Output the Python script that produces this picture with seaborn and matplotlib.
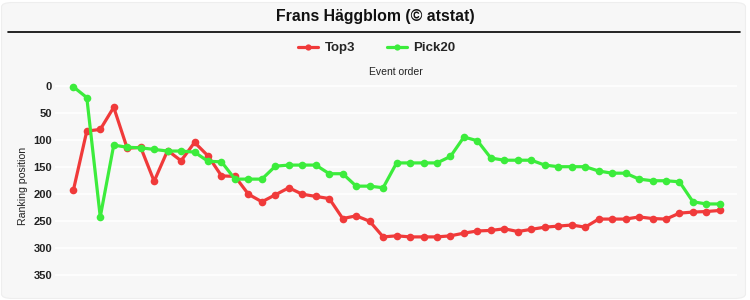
import numpy as np
import pandas as pd
import matplotlib
matplotlib.use("Agg")
import matplotlib.pyplot as plt
from matplotlib.patches import FancyBboxPatch
from matplotlib.lines import Line2D
import seaborn as sns

title = "Frans Häggblom (© atstat)"
series_names = ["Top3", "Pick20"]
top3 = [194, 84, 81, 40, 116, 114, 177, 120, 139, 105, 130, 167, 168, 201, 215, 202,
        189, 201, 205, 209, 246, 241, 251, 280, 278, 280, 280, 280, 278, 273, 269, 268,
        265, 270, 266, 262, 260, 258, 262, 247, 247, 247, 243, 246, 247, 236, 234, 233, 231]
pick20 = [2, 22, 243, 110, 114, 115, 118, 121, 121, 123, 140, 141, 173, 173, 173, 149,
          147, 147, 147, 163, 163, 186, 186, 189, 143, 143, 143, 143, 131, 95, 102, 134,
          138, 138, 138, 147, 150, 150, 150, 158, 162, 162, 173, 176, 176, 178, 215, 219, 219]
y_ticks = [0, 50, 100, 150, 200, 250, 300, 350]
colors = {"Top3": "#f03a3a", "Pick20": "#3cec3c"}

df = pd.DataFrame({
    "event": list(range(len(top3))) + list(range(len(pick20))),
    "rank": top3 + pick20,
    "series": ["Top3"] * len(top3) + ["Pick20"] * len(pick20),
})

sns.set_theme(style="white")
plt.rcParams["font.family"] = ["Liberation Sans", "DejaVu Sans"]

fig = plt.figure(figsize=(7.5, 3.0), dpi=100)
fig.patch.set_facecolor("white")
bg = FancyBboxPatch((1.5 / 750, 1.5 / 300), 744 / 750, 296 / 300,
                    boxstyle="round,pad=0,rounding_size=0.015",
                    transform=fig.transFigure, facecolor="#f7f7f7",
                    edgecolor="#eeeeee", linewidth=0.8, zorder=-10)
fig.patches.append(bg)

ax = fig.add_axes([55 / 750, 1 - 290.9 / 300, (737 - 55) / 750, (290.9 - 80.3) / 300])
ax.set_facecolor("#f7f7f7")
sns.lineplot(data=df, x="event", y="rank", hue="series", palette=colors,
             hue_order=series_names, marker="o", markersize=5.5, markeredgewidth=0,
             linewidth=2.3, ax=ax, legend=False, zorder=3)

ax.set_ylim(380, -10)
ax.set_xlim(-1.36, 49.27)
ax.set_yticks(y_ticks)
ax.set_yticklabels([str(v) for v in y_ticks], fontsize=8, fontweight="bold", color="#222222")
ax.set_xticks([])
ax.tick_params(axis="y", length=0, pad=2)
ax.grid(axis="y", color="white", linewidth=1.2, zorder=0)
ax.grid(axis="x", visible=False)
for s in ax.spines.values():
    s.set_visible(False)
ax.set_ylabel("Ranking position", fontsize=7.6, color="#222222", labelpad=4)
ax.xaxis.set_label_position("top")
ax.set_xlabel("Event order", fontsize=7.5, color="#222222", labelpad=4)

fig.text(375 / 750, 1 - 16 / 300, title, ha="center", va="center",
         fontsize=11.4, fontweight="bold", color="#111111")
fig.add_artist(Line2D([8 / 750, 740 / 750], [1 - 31.5 / 300, 1 - 31.5 / 300],
                      transform=fig.transFigure, color="black", linewidth=1.2))

handles = [Line2D([0], [0], color=colors[n], linewidth=2.3, marker="o",
                  markersize=4.5, markeredgewidth=0) for n in series_names]
fig.legend(handles, series_names, loc="center", bbox_to_anchor=(377 / 750, 1 - 48 / 300),
           ncol=2, frameon=False, handlelength=1.5, columnspacing=2.4, handletextpad=0.5,
           prop={"size": 9.5, "weight": "bold"})

fig.savefig("out.png", dpi=100, facecolor=fig.get_facecolor())
